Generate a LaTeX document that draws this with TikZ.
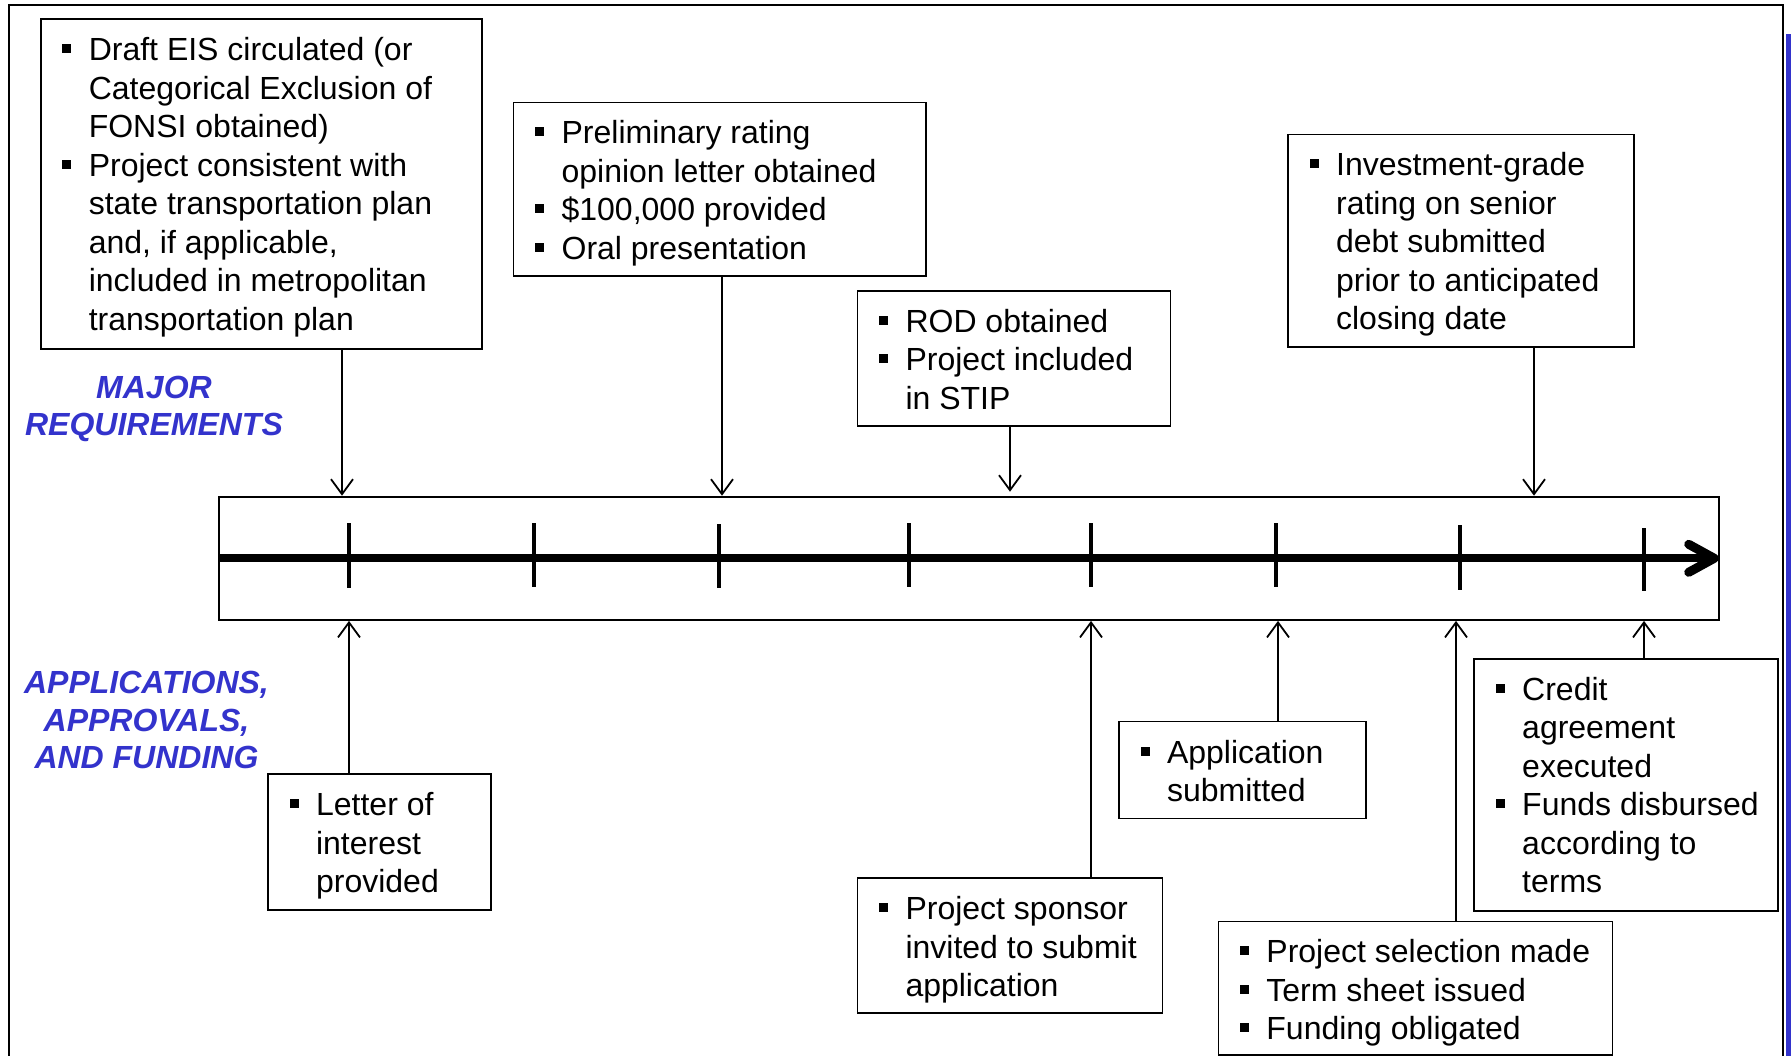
\documentclass[tikz,border=0pt]{standalone}
\usepackage{fontspec}
\setmainfont{Liberation Sans}
\usetikzlibrary{arrows.meta}
\definecolor{lblblue}{RGB}{51,51,204}
\newcommand\bul{\makebox[26.5pt][l]{\raisebox{7.5pt}{\rule{9pt}{9pt}}}}
\newcommand\ind{\hspace*{26.5pt}}
\newcommand\btext[3]{\parbox[c][#2][t]{#1}{\raggedright\leftskip=21.5pt\rule{0pt}{41.5pt}#3}}
\begin{document}
\begin{tikzpicture}[x=1pt,y=-1pt,
  box/.style={draw, line width=1.6pt, inner sep=0pt, anchor=north west, font=\fontsize{32}{38.5}\selectfont},
  lbl/.style={text=lblblue, align=center, inner sep=0pt, anchor=north, font=\fontsize{32}{37.5}\selectfont\bfseries\itshape},
  conn/.style={line width=1.8pt, -{Straight Barb[length=15pt,width=22pt]}},
  tick/.style={line width=4pt}]
\useasboundingbox (0,0) rectangle (1791,1056);
\fill[white] (0,0) rectangle (1791,1056);
% outer frame and side bar
\draw[line width=2pt] (8.5,1070) -- (8.5,4.7) -- (1783,4.7) -- (1783,1070);
\fill[lblblue] (1786,34) rectangle (1800,1070);

% top boxes
\node[box] (b1) at (40,18.3) {\btext{441pt}{330pt}{\bul Draft EIS circulated (or\\
\ind Categorical Exclusion of\\
\ind FONSI obtained)\\
\bul Project consistent with\\
\ind state transportation plan\\
\ind and, if applicable,\\
\ind included in metropolitan\\
\ind transportation plan}};
\node[box] (b2) at (512.8,101.7) {\btext{412.4pt}{173.6pt}{\bul Preliminary rating\\
\ind opinion letter obtained\\
\bul \$100,000 provided\\
\bul Oral presentation}};
\node[box] (b3) at (856.7,290.1) {\btext{312.9pt}{134.8pt}{\bul ROD obtained\\
\bul Project included\\
\ind in STIP}};
\node[box] (b4) at (1287.3,133.6) {\btext{346.1pt}{212.5pt}{\bul Investment-grade\\
\ind rating on senior\\
\ind debt submitted\\
\ind prior to anticipated\\
\ind closing date}};

% timeline
\node[draw, line width=1.8pt, inner sep=0pt, anchor=north west, minimum width=1499.7pt, minimum height=123.4pt] (tl) at (218.2,495.7) {};
\draw[line width=8.3pt, shorten >=7pt] (tl.west) -- (tl.east);
\draw[line width=9pt, line cap=round, line join=round]
  ([shift={(-31,-14)}]tl.east) -- ([shift={(-5.5,0)}]tl.east) -- ([shift={(-31,14)}]tl.east);
\foreach \x/\ya/\yb in {349/523/588,533.8/523/587,718.7/524/588,908.6/523/587,1091.4/523/587,1276.2/523/587,1460/525/590,1643.8/528/591}
  \draw[tick] (\x,\ya) -- (\x,\yb);

% bottom boxes
\node[box] (b5) at (267.3,773.3) {\btext{222.7pt}{135.9pt}{\bul Letter of\\
\ind interest\\
\ind provided}};
\node[box] (b6) at (856.7,877.2) {\btext{304.9pt}{134.8pt}{\bul Project sponsor\\
\ind invited to submit\\
\ind application}};
\node[box] (b7) at (1118.2,720.7) {\btext{246.8pt}{97.1pt}{\bul Application\\
\ind submitted}};
\node[box] (b8) at (1217.6,920.6) {\btext{394pt}{133.4pt}{\bul Project selection made\\
\bul Term sheet issued\\
\bul Funding obligated}};
\node[box] (b9) at (1473.4,657.9) {\btext{303.9pt}{252.4pt}{\bul Credit\\
\ind agreement\\
\ind executed\\
\bul Funds disbursed\\
\ind according to\\
\ind terms}};

% labels
\node[lbl] (mr) at (154,372) {\strut MAJOR\\REQUIREMENTS};
\node[lbl] (aaf) at (146.5,667.5) {\strut APPLICATIONS,\\APPROVALS,\\AND FUNDING};

% arrow x positions
\coordinate (u1) at (342,0);
\coordinate (u2) at (722,0);
\coordinate (u3) at (1010,0);
\coordinate (u4) at (1534,0);
\coordinate (d1) at (349,0);
\coordinate (d2) at (1091,0);
\coordinate (d3) at (1278,0);
\coordinate (d4) at (1456,0);
\coordinate (d5) at (1644,0);

\draw[conn] (b1.south -| u1) -- (tl.north -| u1);
\draw[conn] (b2.south -| u2) -- (tl.north -| u2);
\draw[conn, shorten >=4pt] (b3.south -| u3) -- (tl.north -| u3);
\draw[conn] (b4.south -| u4) -- (tl.north -| u4);
\draw[conn] (b5.north -| d1) -- (tl.south -| d1);
\draw[conn] (b6.north -| d2) -- (tl.south -| d2);
\draw[conn] (b7.north -| d3) -- (tl.south -| d3);
\draw[conn] (b8.north -| d4) -- (tl.south -| d4);
\draw[conn] (b9.north -| d5) -- (tl.south -| d5);
\end{tikzpicture}
\end{document}
